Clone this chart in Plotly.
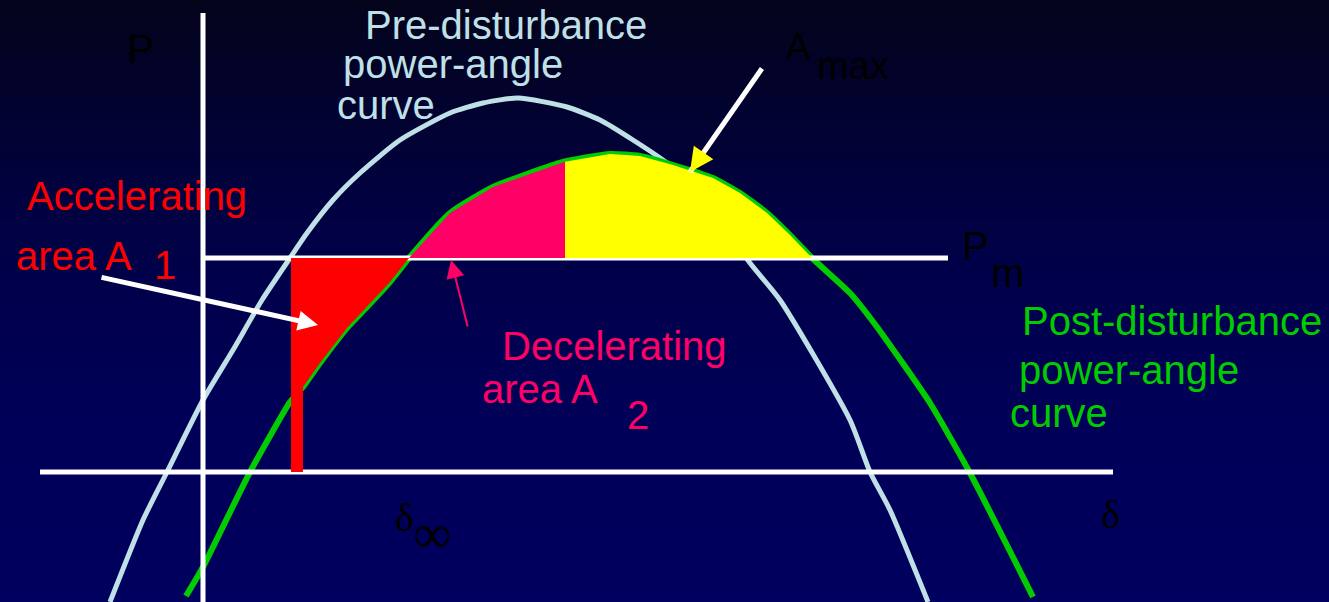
import numpy as np
import plotly.graph_objects as go

W, H = 1329, 602

# ---- curves (delta position, power position; pixel-like diagram units, P grows upward = smaller value)
pre_x = [110, 143, 167, 203, 233, 262, 290, 307, 333, 360, 400, 450, 483, 518, 567,
         600, 633, 667, 700, 750, 780, 850, 870, 890, 928]
pre_y = [602, 520, 472, 400, 350, 300, 258, 233, 200, 173, 140, 113, 103, 98, 107,
         120, 140, 163, 193, 263, 300, 420, 472, 510, 602]

post_x = [186, 203, 250, 290, 303, 320, 347, 367, 390, 409, 450, 493, 563, 610, 640,
          673, 713, 740, 767, 790, 812, 850, 877, 930, 970, 1033]
post_y = [596, 567, 472, 402, 387, 363, 328, 307, 282, 258, 213, 187, 162, 154, 156,
          165, 178, 193, 213, 235, 258, 293, 327, 403, 473, 597]

# ---- key levels / angles
pm_level = 258
delta_axis_level = 472
p_axis_pos = 203
p_axis_top = 13
pm_line_span = [205, 948]
delta_axis_span = [40, 1113]
delta0 = 291
delta0_bar_right = 303
delta_cross = 409
delta_switch = 565
delta_max = 812

# ---- text labels
curve_labels_pre = ["Pre-disturbance", "power-angle", "curve"]
curve_labels_post = ["Post-disturbance", "power-angle", "curve"]
acc_labels = ["Accelerating", "area A", "1"]
dec_labels = ["Decelerating", "area A", "2"]
axis_labels = ["P", "δ"]
pm_labels = ["P", "m"]
amax_labels = ["A", "max"]
delta0_labels = ["δ", "∞"]

# ---- background gradient stops
bg_pos = [0, 100, 200, 300, 420, 602]
bg_col = ["#03031b", "#02022e", "#010140", "#00004d", "#000058", "#00005e"]

WHITE = "#ffffff"
LIGHTBLUE = "#bfe0e6"
GREEN = "#00cc00"
RED = "#ff0000"
PINK = "#ff0066"
YELLOW = "#ffff00"
SANS = "Liberation Sans, Arial, sans-serif"
SERIF = "Liberation Serif, Times New Roman, serif"

fig = go.Figure()

# background gradient as heatmap
scale = [[p / H, c] for p, c in zip(bg_pos, bg_col)]
fig.add_trace(go.Heatmap(
    x=[0, W], y=bg_pos, z=[[p, p] for p in bg_pos], zmin=0, zmax=H,
    colorscale=scale, showscale=False, zsmooth="best", hoverinfo="skip"))

# curves
fig.add_trace(go.Scatter(x=pre_x, y=pre_y, mode="lines",
                         line=dict(color=LIGHTBLUE, width=5, shape="spline", smoothing=0.6),
                         hoverinfo="skip"))
fig.add_trace(go.Scatter(x=post_x, y=post_y, mode="lines",
                         line=dict(color=GREEN, width=6, shape="spline", smoothing=0.5),
                         hoverinfo="skip"))

# white axes lines
fig.add_trace(go.Scatter(x=[p_axis_pos, p_axis_pos], y=[p_axis_top, H], mode="lines",
                         line=dict(color=WHITE, width=5), hoverinfo="skip"))
fig.add_trace(go.Scatter(x=pm_line_span, y=[pm_level, pm_level], mode="lines",
                         line=dict(color=WHITE, width=5), hoverinfo="skip"))
fig.add_trace(go.Scatter(x=delta_axis_span, y=[delta_axis_level, delta_axis_level], mode="lines",
                         line=dict(color=WHITE, width=5), hoverinfo="skip"))


def g(x):
    return float(np.interp(x, post_x, post_y))


def region(xa, xb):
    inner = [(x, y) for x, y in zip(post_x, post_y) if xa < x < xb]
    xs = [xa, xa] + [p[0] for p in inner] + [xb, xb]
    ys = [pm_level, g(xa)] + [p[1] for p in inner] + [g(xb), pm_level]
    return xs, ys


# accelerating area (red) incl. bar down to delta axis
inner = [(x, y) for x, y in zip(post_x, post_y) if delta0_bar_right < x < delta_cross][::-1]
rx = [delta0, delta_cross] + [p[0] for p in inner] + [delta0_bar_right, delta0_bar_right, delta0]
ry = [pm_level, pm_level] + [p[1] for p in inner] + [g(delta0_bar_right), delta_axis_level, delta_axis_level]
fig.add_trace(go.Scatter(x=rx, y=ry, fill="toself", fillcolor=RED, mode="lines",
                         line=dict(width=0, color=RED), hoverinfo="skip"))

px_, py_ = region(delta_cross, delta_switch)
fig.add_trace(go.Scatter(x=px_, y=py_, fill="toself", fillcolor=PINK, mode="lines",
                         line=dict(width=0, color=PINK), hoverinfo="skip"))
yx_, yy_ = region(delta_switch, delta_max)
fig.add_trace(go.Scatter(x=yx_, y=yy_, fill="toself", fillcolor=YELLOW, mode="lines",
                         line=dict(width=0, color=YELLOW), hoverinfo="skip"))

annotations = []


def txt(text, x, y, color, size=40, family=SANS):
    annotations.append(dict(text=text, x=x, y=y, xref="x", yref="y",
                            xanchor="left", yanchor="middle", showarrow=False,
                            borderpad=0, font=dict(color=color, size=size, family=family)))


# text positions (left, middle)
pre_pos = [(364, 25), (342, 64), (336, 105)]
post_pos = [(1021, 321), (1018, 370), (1009, 413)]
acc_pos = [(26, 196), (15, 256), (153, 265)]
dec_pos = [(501, 346), (481, 389), (626, 415)]

for t, (x, y) in zip(curve_labels_pre, pre_pos):
    txt(t, x, y, LIGHTBLUE)
for t, (x, y) in zip(curve_labels_post, post_pos):
    txt(t, x, y, GREEN)
for t, (x, y) in zip(acc_labels, acc_pos):
    txt(t, x, y, RED)
for t, (x, y) in zip(dec_labels, dec_pos):
    txt(t, x, y, PINK)

txt(axis_labels[0], 126, 49, "#000000")
txt(axis_labels[1], 1100, 514, "#000000", size=40, family=SERIF)
txt(pm_labels[0], 961, 246, "#000000")
txt(pm_labels[1], 990, 273, "#000000")
txt(amax_labels[0], 785, 46, "#000000", size=36)
txt(amax_labels[1], 816, 66, "#000000", size=38)
txt(delta0_labels[0], 394, 517, "#000000", size=40, family=SERIF)
txt(delta0_labels[1], 412, 534, "#000000", size=54, family=SERIF)

# arrows: (head, tail)
arrow_acc = [(318, 325), (100, 277)]
arrow_amax = [(690, 172), (763, 67)]
arrow_dec = [(451, 260), (468, 328)]


def arrow(head, tail, color, width, size, style=2):
    annotations.append(dict(x=head[0], y=head[1], ax=tail[0], ay=tail[1],
                            xref="x", yref="y", axref="x", ayref="y", text="",
                            showarrow=True, arrowhead=style, arrowsize=size,
                            arrowwidth=width, arrowcolor=color))


arrow(arrow_acc[0], arrow_acc[1], WHITE, 5, 0.8)
arrow(arrow_amax[0], arrow_amax[1], WHITE, 5, 0.5, style=0)
hx, hy = arrow_amax[0]
tx, ty = arrow_amax[1]
L = np.hypot(tx - hx, ty - hy)
back = 26
arrow(arrow_amax[0], (hx + (tx - hx) / L * back, hy + (ty - hy) / L * back), YELLOW, 5, 0.95)
arrow(arrow_dec[0], arrow_dec[1], PINK, 2, 1.8)

fig.update_layout(
    width=W, height=H, margin=dict(l=0, r=0, t=0, b=0),
    paper_bgcolor=bg_col[-1], plot_bgcolor=bg_col[-1],
    showlegend=False, hovermode=False,
    xaxis=dict(range=[0, W], visible=False, fixedrange=True),
    yaxis=dict(range=[H, 0], visible=False, fixedrange=True),
    annotations=annotations,
)

fig.write_html("out.html", config={"displayModeBar": False})

# remove default page margin so the figure sits at the window origin
with open("out.html", "r", encoding="utf-8") as f:
    html = f.read()
html = html.replace("<head>", "<head><style>html,body{margin:0;padding:0;overflow:hidden;}</style>", 1)
with open("out.html", "w", encoding="utf-8") as f:
    f.write(html)
